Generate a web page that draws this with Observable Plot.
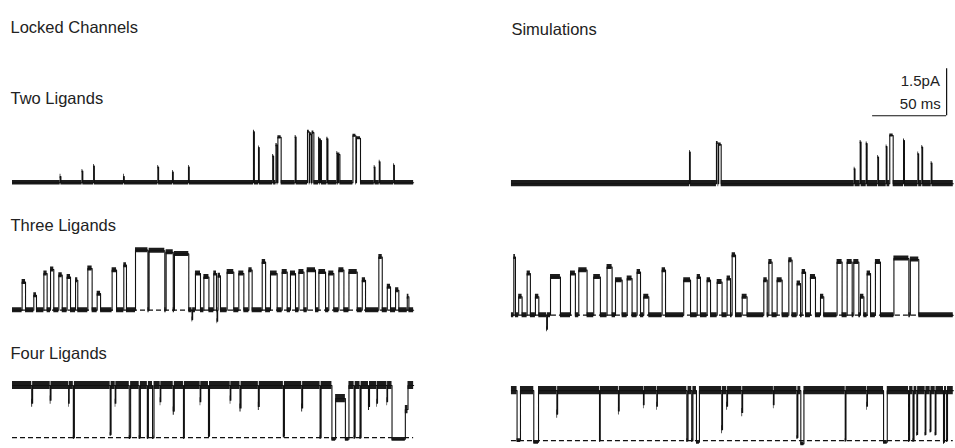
<!DOCTYPE html>
<html><head><meta charset="utf-8">
<script src="https://cdn.jsdelivr.net/npm/d3@7"></script>
<script src="https://cdn.jsdelivr.net/npm/@observablehq/plot@0.6"></script>
<style>body{margin:0;background:#fff;} svg{display:block}</style>
</head><body><div id="chart"></div>
<script>
// ---- Labels ----
const columns = ["Locked Channels", "Simulations"];
const rows = ["Two Ligands", "Three Ligands", "Four Ligands"];
const scaleBarLabels = ["1.5pA", "50 ms"];
const scaleBarSize = [50, 1.5]; // ms, pA

// ---- Trace durations (ms) ----
const traceDurations = [271, 298.5]; // locked, simulation

// ---- Events: [start ms, end ms, current pA] ----
const twoLockedEvents = [
  [32.2,32.7,0.2],[47.0,47.5,0.37],[54.8,55.3,0.53],[75.0,75.5,0.2],[98.2,98.7,0.5],[108.1,108.6,0.34],[118.9,119.4,0.5],
  [162.8,163.4,1.63],[166.2,166.7,1.12],[175.8,176.4,0.85],[178.0,178.8,1.2],[179.3,181.5,1.45],[191.0,191.6,1.46],
  [199.3,200.5,1.63],[200.9,202.0,1.55],[202.4,203.6,1.6],[206.8,207.5,1.4],[208.0,208.7,1.35],[212.4,213.1,1.4],
  [219.2,219.7,0.95],[220.3,221.2,0.9],[230.0,232.0,1.5],[232.4,235.1,1.42],[244.4,244.9,0.5],[247.8,248.3,0.67],[257.5,258.0,0.56]
];
const twoSimEvents = [
  [120.3,120.8,1.01],[138.5,139.6,1.3],[140.0,141.7,1.25],[231.6,232.1,0.48],[235.6,236.2,1.33],[239.7,240.3,1.28],
  [247.5,248.0,0.85],[253.2,253.7,1.19],[255.6,257.9,1.54],[264.9,265.5,1.38],[274.6,275.1,0.96],[277.3,277.8,1.17],[283.6,284.1,0.66]
];
const threeLockedEvents = [
  [6.5,8.8,0.9],[14.4,16.2,0.48],[21.2,23.4,1.17],[25.7,27.9,1.3],[31.3,33.6,1.12],[36.9,39.2,1.06],[42.6,44.1,0.96],
  [50.9,53.8,1.33],[57.2,59.5,0.53],[67.3,70.3,1.28],[75.2,77.0,1.44],[83.1,91.5,1.92],[92.3,102.9,1.9],[103.8,108.6,1.85],
  [109.4,119.1,1.8],[121.3,121.7,-0.3],[123.6,127.0,1.17],[129.3,132.7,1.06],[136.0,137.8,1.17],[138.2,138.6,-0.35],
  [138.9,140.5,1.1],[145.0,149.5,1.22],[152.9,156.3,1.17],[159.7,161.9,1.28],[168.7,171.0,1.54],[174.3,178.8,1.17],
  [182.2,185.6,1.22],[187.8,191.2,1.17],[193.5,196.9,1.22],[199.1,204.7,1.28],[207.0,211.5,1.22],[213.7,217.1,1.17],
  [220.5,223.9,1.28],[227.3,232.9,1.22],[236.3,238.5,0.96],[247.5,249.8,1.7],[253.2,255.4,0.75],[258.8,261.0,0.64],[266.7,267.8,0.43]
];
const threeSimEvents = [
  [1.6,2.7,1.86],[4.9,7.2,0.59],[10.6,12.8,1.33],[16.2,18.5,0.59],[23.8,24.3,-0.45],[26.4,33.1,1.22],[39.9,43.2,1.33],
  [45.5,51.1,1.44],[55.6,60.1,1.22],[64.6,68.0,1.54],[70.3,74.8,1.12],[78.2,81.5,1.17],[84.9,87.2,1.38],[89.4,92.8,0.59],
  [101.8,104.1,1.44],[116.4,121.0,1.12],[125.5,127.7,1.22],[132.2,134.5,1.12],[139.0,142.3,1.06],[145.7,148.0,1.17],
  [149.1,151.4,1.92],[155.9,159.2,0.59],[170.5,172.8,1.12],[173.9,176.1,1.7],[179.5,182.9,1.12],[187.4,189.6,1.76],
  [193.0,195.3,1.01],[196.4,198.7,1.38],[202.0,205.4,1.22],[208.8,211.0,0.59],[220.0,223.4,1.7],[226.8,230.2,1.7],
  [231.3,234.7,1.7],[235.8,238.1,0.59],[240.3,242.6,1.33],[245.9,249.3,1.7],[258.4,268.5,1.81],[269.5,275.2,1.78]
];
// Four ligands: channel mostly open; events are closures
const fourOpenLevels = [1.67, 1.6];
const fourLockedEvents = [
  [13.0,13.6,1.1],[25.5,26.0,1.2],[37.9,38.3,1.1],[41.1,41.8,0],[66.0,66.6,0.1],[69.4,69.8,1.1],[78.9,79.8,0],[85.6,86.4,0],
  [91.1,91.8,0],[94.6,95.6,0],[99.8,100.2,1.15],[108.6,109.3,0.85],[115.5,116.1,0],[126.8,127.2,1.15],[132.4,133.1,0.05],
  [147.1,147.5,1.2],[153.7,154.4,0.95],[166.1,166.7,1.0],[183.0,183.7,0.05],[195.4,196.0,0.95],[207.8,208.5,0],
  [215.8,218.3,-0.05],[218.3,224.9,1.25],[224.9,227.3,-0.05],[230.8,231.5,0],[234.8,235.5,0],[240.5,241.2,1.0],
  [246.2,246.6,1.1],[253.0,253.4,1.15],[256.4,265.4,-0.05],[265.4,267.2,0.9]
];
const fourSimEvents = [
  [3.8,6.1,0],[15.1,18.3,-0.05],[30.7,31.2,0.85],[59.5,60.0,0],[72.3,72.8,0.95],[89.2,89.6,1.15],[98.2,98.6,1.1],
  [118.5,119.3,0],[121.8,122.6,0],[125.0,127.0,-0.05],[142.1,142.6,0.35],[145.5,146.0,1.1],[155.7,156.2,0.9],
  [177.0,177.4,1.15],[192.9,193.5,0.1],[195.5,197.6,-0.1],[225.5,226.0,0],[240.1,240.5,1.1],[251.4,253.9,-0.05],
  [268.3,269.0,0],[271.3,272.0,0],[273.9,274.4,0.2],[279.5,280.0,0.2],[282.9,283.4,0.3],[286.3,286.8,0.2],
  [291.9,292.6,-0.05],[294.0,294.6,0]
];
// Recording noise (half-width, pA): closed / open
const noiseClosed = [0.07, 0.1, 0.08, 0.08, 0.06, 0.06];
const noiseOpen   = [0.05, 0.05, 0.08, 0.08, 0.13, 0.13];

// ---- Build traces ----
const specs = [
  {col:0,row:0,events:twoLockedEvents,rest:0,dash:false,dy:0},
  {col:1,row:0,events:twoSimEvents,rest:0,dash:false,dy:1},
  {col:0,row:1,events:threeLockedEvents,rest:0,dash:true,dy:0},
  {col:1,row:1,events:threeSimEvents,rest:0,dash:true,dy:5},
  {col:0,row:2,events:fourLockedEvents,rest:fourOpenLevels[0],dash:true,dy:0},
  {col:1,row:2,events:fourSimEvents,rest:fourOpenLevels[1],dash:true,dy:3}
];
function toSteps(s, k) {
  const end = traceDurations[s.col];
  const c = columns[s.col], r = rows[s.row];
  const nz = i => (i > 0.3 ? noiseOpen[k] : noiseClosed[k]);
  const pts = [{t:0, i:s.rest}];
  s.events.forEach(([a,b,l], j) => {
    pts.push({t:a, i:l});
    const next = s.events[j+1];
    if (!next || next[0] > b) pts.push({t:b, i:s.rest});
  });
  pts.push({t:end, i:s.rest});
  return pts.map(p => ({...p, n: nz(p.i), col:c, row:r}));
}
const marks = [];
specs.forEach((s, k) => {
  const pts = toSteps(s, k);
  const c = columns[s.col], r = rows[s.row];
  if (s.dash) marks.push(Plot.ruleY([{col:c,row:r}], {fx:"col", fy:"row", y:0, x1:0, x2:traceDurations[s.col], stroke:"#111", strokeWidth:1.3, strokeDasharray:"5,3", dy:s.dy}));
  marks.push(Plot.areaY(pts, {x:"t", y1:d=>d.i-d.n, y2:d=>d.i+d.n, curve:"step-after", fill:"#1c1c1c", fx:"col", fy:"row", dy:s.dy}));
  marks.push(Plot.line(pts, {x:"t", y:"i", curve:"step-after", stroke:"#111", strokeWidth:1.1, fx:"col", fy:"row", dy:s.dy}));
});
const FS = 16.5;
// Column titles and row labels
marks.push(Plot.text([{col:columns[0],row:rows[0],label:columns[0]}], {fx:"col", fy:"row", text:"label", frameAnchor:"top-left", lineAnchor:"middle", textAnchor:"start", dx:-2, dy:-77, fontSize:FS, fill:"#222"}));
marks.push(Plot.text([{col:columns[1],row:rows[0],label:columns[1]}], {fx:"col", fy:"row", text:"label", frameAnchor:"top-left", lineAnchor:"middle", textAnchor:"start", dx:0, dy:-75, fontSize:FS, fill:"#222"}));
marks.push(Plot.text(rows.map(r => ({col:columns[0], row:r, label:r})), {fx:"col", fy:"row", text:"label", frameAnchor:"top-left", lineAnchor:"middle", textAnchor:"start", dx:-2, dy:-6, fontSize:FS, fill:"#222"}));
// Scale bar
const barRight = 294, barBottom = 2.14;
const sb = [{col:columns[1], row:rows[0]}];
marks.push(Plot.ruleY(sb, {fx:"col", fy:"row", y:barBottom, x1:barRight-scaleBarSize[0], x2:barRight, stroke:"#111", strokeWidth:1.2}));
marks.push(Plot.ruleX(sb, {fx:"col", fy:"row", x:barRight, y1:barBottom, y2:barBottom+scaleBarSize[1], stroke:"#111", strokeWidth:1.2}));
marks.push(Plot.text(sb.map(d=>({...d,label:scaleBarLabels[0]})), {fx:"col", fy:"row", text:"label", x:barRight-4.5, y:barBottom+1.09, textAnchor:"end", fontSize:15, fill:"#222"}));
marks.push(Plot.text(sb.map(d=>({...d,label:scaleBarLabels[1]})), {fx:"col", fy:"row", text:"label", x:barRight-4, y:barBottom+0.36, textAnchor:"end", fontSize:15, fill:"#222"}));

const chart = Plot.plot({
  width:955, height:448,
  marginTop:104, marginBottom:1.4, marginLeft:12, marginRight:0,
  style:{fontFamily:"'Liberation Sans', Arial, Helvetica, sans-serif", background:"#fff"},
  fx:{domain:columns, paddingInner:0.11, paddingOuter:0, round:false, axis:null},
  fy:{domain:rows, paddingInner:0.313, paddingOuter:0, round:false, axis:null},
  x:{domain:[0,300], axis:null},
  y:{domain:[-0.3,2.5], axis:null},
  marks
});
document.getElementById("chart").appendChild(chart);
</script></body></html>
